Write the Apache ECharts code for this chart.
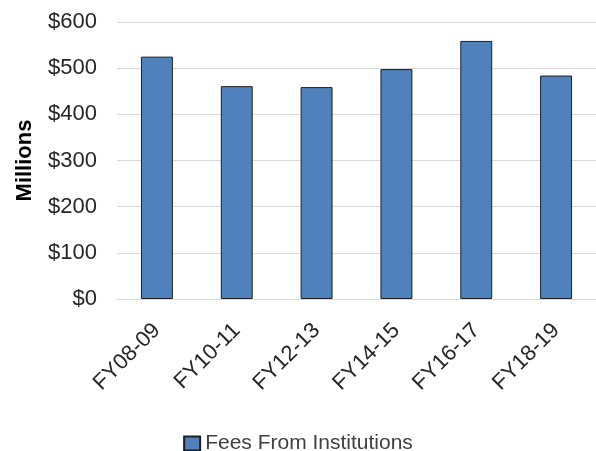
<!DOCTYPE html>
<html>
<head>
<meta charset="utf-8">
<script src="https://cdn.jsdelivr.net/npm/echarts@6/dist/echarts.min.js"></script>
<style>
  html, body { margin: 0; padding: 0; background: #fff; }
  #chart { width: 596px; height: 451px; }
</style>
</head>
<body>
<div id="chart"></div>
<script>
// fiscal years and fees (millions of dollars)
const categories = ['FY08-09', 'FY10-11', 'FY12-13', 'FY14-15', 'FY16-17', 'FY18-19'];
const fees = [525, 461, 459, 498, 559, 484];
const seriesName = 'Fees From Institutions';

const font = 'Liberation Sans, Arial, sans-serif';
const textColor = '#262626';

const myChart = echarts.init(document.getElementById('chart'));

let option = {
    animation: false,
    textStyle: { fontFamily: font },
    grid: {
        left: 117,
        top: 22,
        width: 481,
        bottom: 152,
        containLabel: false
    },
    legend: {
        top: 428,
        left: 'center',
        icon: 'rect',
        itemWidth: 16,
        itemHeight: 14,
        itemGap: 6,
        data: [seriesName],
        textStyle: { fontSize: 21, color: '#404040', fontFamily: font }
    },
    xAxis: {
        type: 'category',
        data: categories,
        axisTick: { show: false },
        axisLine: { show: true, lineStyle: { color: '#d9d9d9', width: 1 } },
        axisLabel: {
            rotate: 45,
            interval: 0,
            margin: 28,
            fontSize: 22,
            color: textColor,
            fontFamily: font
        }
    },
    yAxis: {
        type: 'value',
        min: 0,
        max: 600,
        interval: 100,
        name: 'Millions',
        nameLocation: 'middle',
        nameGap: 81,
        nameRotate: 90,
        nameTextStyle: { fontSize: 22, fontWeight: 'bold', color: '#000', fontFamily: font },
        axisLine: { show: false },
        axisTick: { show: false },
        axisLabel: {
            margin: 20,
            fontSize: 22,
            color: textColor,
            fontFamily: font,
            formatter: function (v) { return '$' + v; }
        },
        splitLine: { lineStyle: { color: '#d9d9d9', width: 1 } }
    },
    series: [
        {
            name: seriesName,
            type: 'bar',
            barWidth: '40%',
            itemStyle: {
                color: '#4f81bd',
                borderColor: '#1f1f1f',
                borderWidth: 1
            },
            data: fees
        }
    ]
};

myChart.setOption(option);
</script>
</body>
</html>
